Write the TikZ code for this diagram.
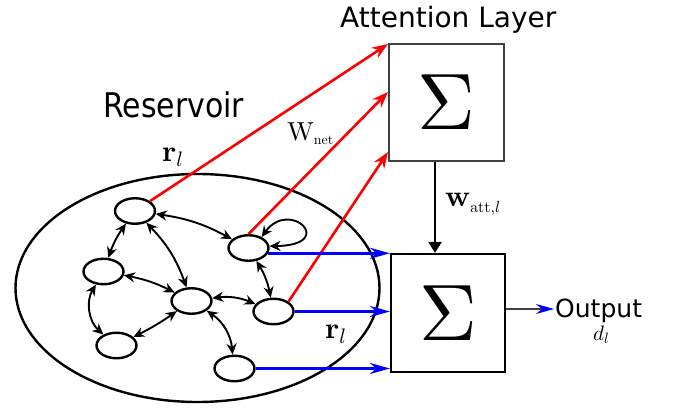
\documentclass[tikz,border=0pt]{standalone}
\usepackage{fontspec}
\newfontfamily\dejavu{DejaVu Sans}
\newfontfamily\resfont[FakeStretch=0.88]{DejaVu Sans}
\usetikzlibrary{arrows.meta,shapes.geometric}
\font\sigfont=cmr10 at 80pt
\font\rbf=cmbx10 at 30pt
\font\lmi=cmmi10 at 21pt
\font\Wrm=cmr10 at 26pt
\font\netrm=cmr10 at 14pt
\font\attrm=cmr10 at 16pt
\font\attmi=cmmi10 at 16pt
\font\dmi=cmmi10 at 21pt
\font\dsub=cmmi10 at 15pt
\tikzset{
  neuron/.style={ellipse, draw, line width=2.4pt, minimum width=40pt, minimum height=25.5pt, inner sep=0pt},
  gedge/.style={line width=1.9pt, {Stealth[length=11pt,width=10pt]}-{Stealth[length=11pt,width=10pt]}},
  redarrow/.style={red, line width=2.6pt, -{Stealth[length=16pt,width=12pt]}},
  bluearrow/.style={blue, line width=2.6pt, -{Stealth[length=20pt,width=11pt]}},
  sumbox/.style={draw, inner sep=0pt, font=\sigfont},
  lbl/.style={inner sep=0pt, anchor=base west},
}
\begin{document}
\begin{tikzpicture}[x=1pt,y=-1pt]
\useasboundingbox[fill=white] (0,0) rectangle (682,411);
% reservoir oval
\draw[line width=2.4pt] (197.5,288) ellipse [x radius=182, y radius=114];
% neurons
\node[neuron] (n1) at (135,211) {};
\node[neuron] (n2) at (248.5,248) {};
\node[neuron] (n3) at (103.5,271.5) {};
\node[neuron] (n4) at (191.5,301) {};
\node[neuron] (n5) at (273.5,311.5) {};
\node[neuron] (n6) at (116.5,345.5) {};
\node[neuron] (n7) at (234.5,368.5) {};
% reservoir edges
\draw[gedge] (n1) to[bend left=10] (n2);
\draw[gedge] (n1) to[bend right=8] (n3);
\draw[gedge] (n1) to[bend left=12] (n4);
\draw[gedge] (n3) to[bend left=8] (n4);
\draw[gedge] (n3) to[bend right=40] (n6);
\draw[gedge] (n4) to[bend left=4] (n6);
\draw[gedge] (n4) to[bend left=15] (n5);
\draw[gedge] (n2) to[bend left=10] (n5);
\draw[gedge] (n4) to[bend left=25] (n7);
\draw[gedge] (n2.40) .. controls (290,198) and (338,245) .. (n2.5);
% boxes
\node[sumbox, line width=2.2pt, draw=black!75, minimum width=115pt, minimum height=117pt] (b1) at (446.5,102.5) {\char6};
\node[sumbox, line width=1.6pt, minimum width=114.5pt, minimum height=118.5pt] (b2) at (448,313) {\char6};
% red arrows
\coordinate (t1) at (388,44);
\coordinate (t2) at (388,92);
\coordinate (t3) at (388,152);
\draw[redarrow] (n1.north east) -- (t1);
\draw[redarrow] (n2.north) -- (t2);
\draw[redarrow] (n5.north east) -- (t3);
% blue arrows
\draw[bluearrow] (n2.-15) -- (b2.west |- n2.-15);
\draw[bluearrow] (n5.east) -- (b2.west |- n5.east);
\draw[bluearrow] (n7.east) -- (b2.west |- n7.east);
% attention weight arrow
\coordinate (wx) at (435,0);
\draw[line width=2.2pt, -{Triangle[length=11pt,width=13pt]}] (b1.south -| wx) -- (b2.north -| wx);
% output
\coordinate (oend) at (554,309);
\draw[black!75, line width=1.6pt, -{Stealth[length=18pt,width=10pt,color=blue]}] (b2.east |- oend) -- (oend);
% labels
\node[lbl, font=\dejavu\fontsize{28}{28}\selectfont] (att) at (340,28) {Attention Layer};
\node[lbl, font=\resfont\fontsize{34}{34}\selectfont] (res) at (103,118) {Reservoir};
\node[lbl, font=\dejavu\fontsize{25}{25}\selectfont] (out) at (555,317) {Output};
\node[lbl] (dl) at (593,340) {{\dmi d}\raisebox{-3pt}{\dsub l}};
\node[lbl] (rl1) at (162,162) {{\rbf r}\raisebox{-5pt}{\lmi l}};
\node[lbl] (rl2) at (325,338) {{\rbf r}\raisebox{-5pt}{\lmi l}};
\node[lbl] (wnet) at (287,141) {{\Wrm W}\raisebox{-4pt}{\netrm net}};
\node[lbl] (watt) at (445,207) {{\rbf w}\raisebox{-6pt}{{\attrm att,}{\attmi l}}};
\end{tikzpicture}
\end{document}
